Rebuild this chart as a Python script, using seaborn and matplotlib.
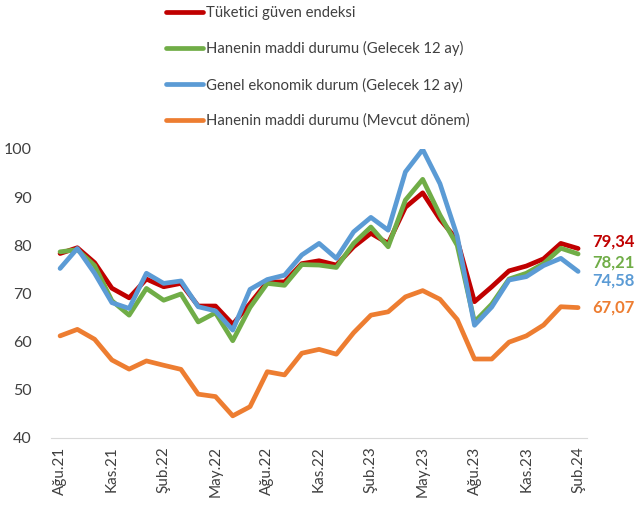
import seaborn as sns
import pandas as pd
import matplotlib.pyplot as plt

# Data
months = ["Ağu.21", "Eyl.21", "Eki.21", "Kas.21", "Ara.21", "Oca.22", "Şub.22", "Mar.22",
          "Nis.22", "May.22", "Haz.22", "Tem.22", "Ağu.22", "Eyl.22", "Eki.22", "Kas.22",
          "Ara.22", "Oca.23", "Şub.23", "Mar.23", "Nis.23", "May.23", "Haz.23", "Tem.23",
          "Ağu.23", "Eyl.23", "Eki.23", "Kas.23", "Ara.23", "Oca.24", "Şub.24"]

tuketici = [78.3, 79.5, 76.4, 71.1, 69.1, 73.0, 71.4, 72.1, 67.4, 67.4, 63.6, 67.9, 72.4, 72.4,
            76.2, 76.8, 75.9, 79.7, 82.5, 80.4, 87.9, 90.9, 85.4, 81.1, 68.3, 71.4, 74.7, 75.7,
            77.2, 80.4, 79.34]
hane_gelecek = [78.65, 79.1, 75.8, 68.5, 65.5, 71.05, 68.6, 69.9, 64.1, 66.0, 60.2, 67.1, 72.1,
                71.7, 76.0, 75.9, 75.4, 80.4, 83.8, 79.7, 89.4, 93.7, 86.3, 80.0, 64.1, 67.8,
                73.0, 74.2, 76.2, 79.4, 78.21]
genel_gelecek = [75.2, 79.35, 74.2, 68.1, 66.9, 74.2, 72.1, 72.6, 67.25, 66.4, 62.4, 70.85, 72.9,
                 73.8, 78.0, 80.4, 77.3, 82.8, 85.8, 83.15, 95.25, 99.9, 92.8, 81.9, 63.4, 67.2,
                 72.8, 73.5, 75.8, 77.3, 74.58]
hane_mevcut = [61.2, 62.55, 60.5, 56.2, 54.3, 56.0, 55.1, 54.25, 49.1, 48.6, 44.6, 46.5, 53.76,
               53.1, 57.6, 58.4, 57.4, 61.85, 65.5, 66.2, 69.3, 70.6, 68.8, 64.6, 56.4, 56.4,
               59.9, 61.2, 63.45, 67.25, 67.07]

series_names = ["Tüketici güven endeksi",
                "Hanenin maddi durumu (Gelecek 12 ay)",
                "Genel ekonomik durum (Gelecek 12 ay)",
                "Hanenin maddi durumu (Mevcut dönem)"]
series_values = [tuketici, hane_gelecek, genel_gelecek, hane_mevcut]
colors = ["#C00000", "#70AD47", "#5B9BD5", "#ED7D31"]
label_shift = [1.5, -1.7, -1.8, 0.0]  # vertical nudge of end labels

sns.set_style("white")
plt.rcParams['font.family'] = ['Lato', 'DejaVu Sans']

fig = plt.figure(figsize=(6.35, 5.08), dpi=100)
ax = fig.add_axes([0.081, 0.1378, 0.843, 0.5689])

x = list(range(len(months)))
for name, vals, col in zip(series_names, series_values, colors):
    df = pd.DataFrame({"ay": x, "deger": vals})
    sns.lineplot(data=df, x="ay", y="deger", ax=ax, color=col, linewidth=3.4, label=name)

# end labels
for vals, col, dy in zip(series_values, colors, label_shift):
    ax.annotate(f"{vals[-1]:.2f}".replace(".", ","), xy=(x[-1], vals[-1] + dy),
                xytext=(10, 0), textcoords="offset points", va="center", ha="left",
                color=col, fontsize=12, fontweight="bold", annotation_clip=False)

ax.set_xlim(-0.5, len(months) - 0.5)
ax.set_ylim(40, 100)
ax.set_yticks(range(40, 101, 10))
ax.set_xticks(x[::3])
ax.set_xticklabels(months[::3], rotation=90)
ax.set_xticks([i - 0.5 for i in x[::3]] + [len(months) - 0.5], minor=True)
ax.tick_params(axis="x", which="major", length=0, pad=6, labelsize=11, labelcolor="#404040")
ax.tick_params(axis="x", which="minor", length=5, width=1, color="#D9D9D9", direction="out")
ax.tick_params(axis="y", length=0, labelsize=11.5, labelcolor="#404040", pad=14)
ax.set_xlabel("")
ax.set_ylabel("")
for s in ["top", "right", "left"]:
    ax.spines[s].set_visible(False)
ax.spines["bottom"].set_color("#D9D9D9")
ax.grid(False)

handles, labels = ax.get_legend_handles_labels()
ax.get_legend().remove()
fig.legend(handles, labels, loc="upper left", bbox_to_anchor=(0.24, 1.014), frameon=False,
           fontsize=10.7, handlelength=2.5, handletextpad=0.2, labelspacing=1.42,
           labelcolor="#404040")

fig.savefig("out.png", dpi=100)
